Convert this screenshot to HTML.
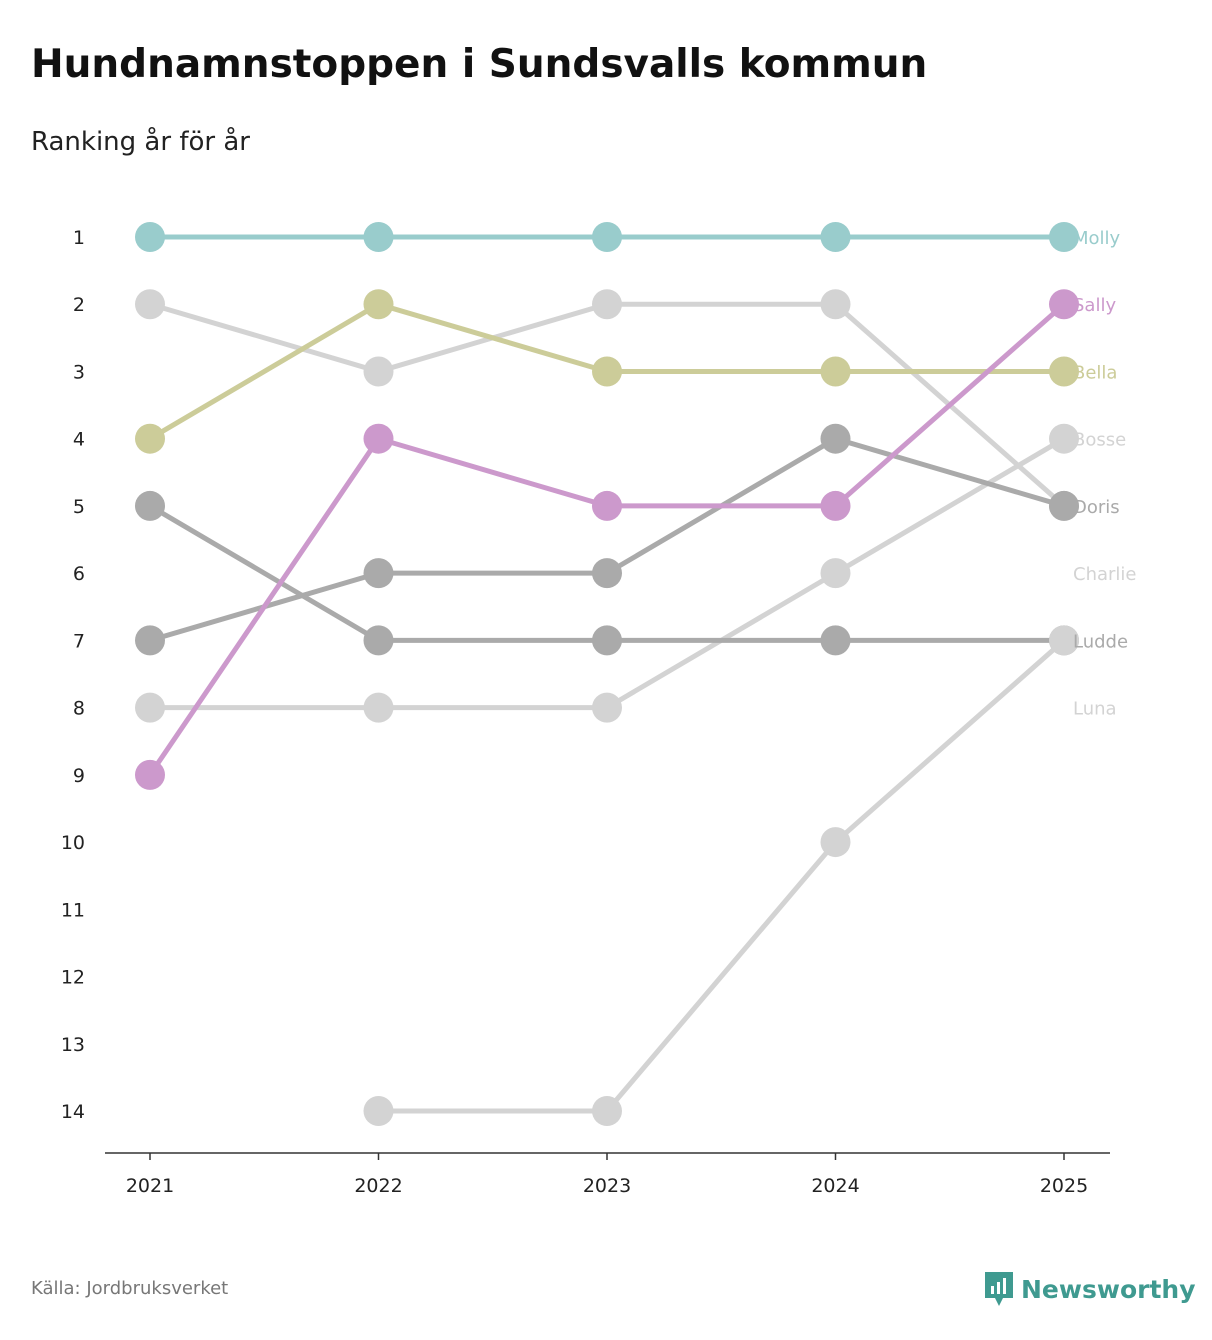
<!DOCTYPE html>
<html><head><meta charset="utf-8">
<style>
body{margin:0;background:#fff;font-family:"DejaVu Sans","Liberation Sans",sans-serif;}
#wrap{position:relative;width:1212px;height:1340px;overflow:hidden;}
h1{position:absolute;left:31px;top:42px;margin:0;font-size:39px;font-weight:bold;color:#111;}
.sub{position:absolute;left:31px;top:127px;font-size:26px;color:#222;}
.src{position:absolute;left:31px;top:1278px;font-size:18px;color:#777;}
.logo{position:absolute;left:983px;top:1270px;display:flex;align-items:center;gap:6px;color:#3f9a90;font-weight:bold;font-size:25px;}
</style></head><body>
<div id="wrap">
<h1>Hundnamnstoppen i Sundsvalls kommun</h1>
<div class="sub">Ranking år för år</div>
<svg id="chart" width="1212" height="1340" style="position:absolute;left:0;top:0"></svg>
<div class="src">Källa: Jordbruksverket</div>
<div class="logo">
<svg width="32" height="38" viewBox="0 0 32 38"><path d="M2 2h28v26H20l-4 8-4-8H2z" fill="#3f9a90"/><rect x="8" y="16" width="3" height="8" fill="#fff"/><rect x="14" y="12" width="3" height="12" fill="#fff"/><rect x="20" y="8" width="3" height="16" fill="#fff"/></svg>
<span>Newsworthy</span></div>
</div>
<script>
const years=[2021,2022,2023,2024,2025];
const rankTicks=[1,2,3,4,5,6,7,8,9,10,11,12,13,14];
const names=["Charlie","Bosse","Ludde","Doris","Luna","Bella","Sally","Molly"];
const colors=["#d3d3d3","#d3d3d3","#aaaaaa","#aaaaaa","#d3d3d3","#cccc99","#cc99cc","#99cccc"];
const molly=[1,1,1,1,1];
const sally=[9,4,5,5,2];
const bella=[4,2,3,3,3];
const bosse=[8,8,8,6,4];
const doris=[7,6,6,4,5];
const charlie=[2,3,2,2,5];
const ludde=[5,7,7,7,7];
const luna=[null,14,14,10,7];
const series=[charlie,bosse,ludde,doris,luna,bella,sally,molly];
const labelOrder=["Molly","Sally","Bella","Bosse","Doris","Charlie","Ludde","Luna"];

const svg=document.getElementById('chart');
const NS="http://www.w3.org/2000/svg";
const x=i=>150+i*228.5;
const y=r=>237+(r-1)*(1111-237)/13;
function mk(t,a){const e=document.createElementNS(NS,t);for(const k in a)e.setAttribute(k,a[k]);svg.appendChild(e);return e;}

rankTicks.forEach(r=>{const t=mk('text',{x:85,y:y(r)+7,'text-anchor':'end','font-size':19,fill:'#222'});t.textContent=r;

});
const ax=mk('line',{x1:105,x2:1110,y1:1153,y2:1153,stroke:'#333','stroke-width':1.5});


years.forEach((yr,i)=>{mk('line',{x1:x(i),x2:x(i),y1:1153,y2:1160,stroke:'#333','stroke-width':1.5});
const t=mk('text',{x:x(i),y:1192,'text-anchor':'middle','font-size':19,fill:'#222'});t.textContent=yr;

});

series.forEach((s,k)=>{
 const g=mk('g',{});
 
 
 let d='';s.forEach((v,i)=>{if(v==null)return;d+=(d?'L':'M')+x(i)+' '+y(v);});
 const p=document.createElementNS(NS,'path');p.setAttribute('d',d);p.setAttribute('fill','none');p.setAttribute('stroke',colors[k]);p.setAttribute('stroke-width',5);g.appendChild(p);
 s.forEach((v,i)=>{if(v==null)return;const c=document.createElementNS(NS,'circle');c.setAttribute('cx',x(i));c.setAttribute('cy',y(v));c.setAttribute('r',15);c.setAttribute('fill',colors[k]);
 
 
 g.appendChild(c);});
});
labelOrder.forEach((n,i)=>{const k=names.indexOf(n);
 const t=mk('text',{x:1073,y:y(i+1)+7,'font-size':18,fill:colors[k]});t.textContent=n;
 
 });
</script>
</body></html>
